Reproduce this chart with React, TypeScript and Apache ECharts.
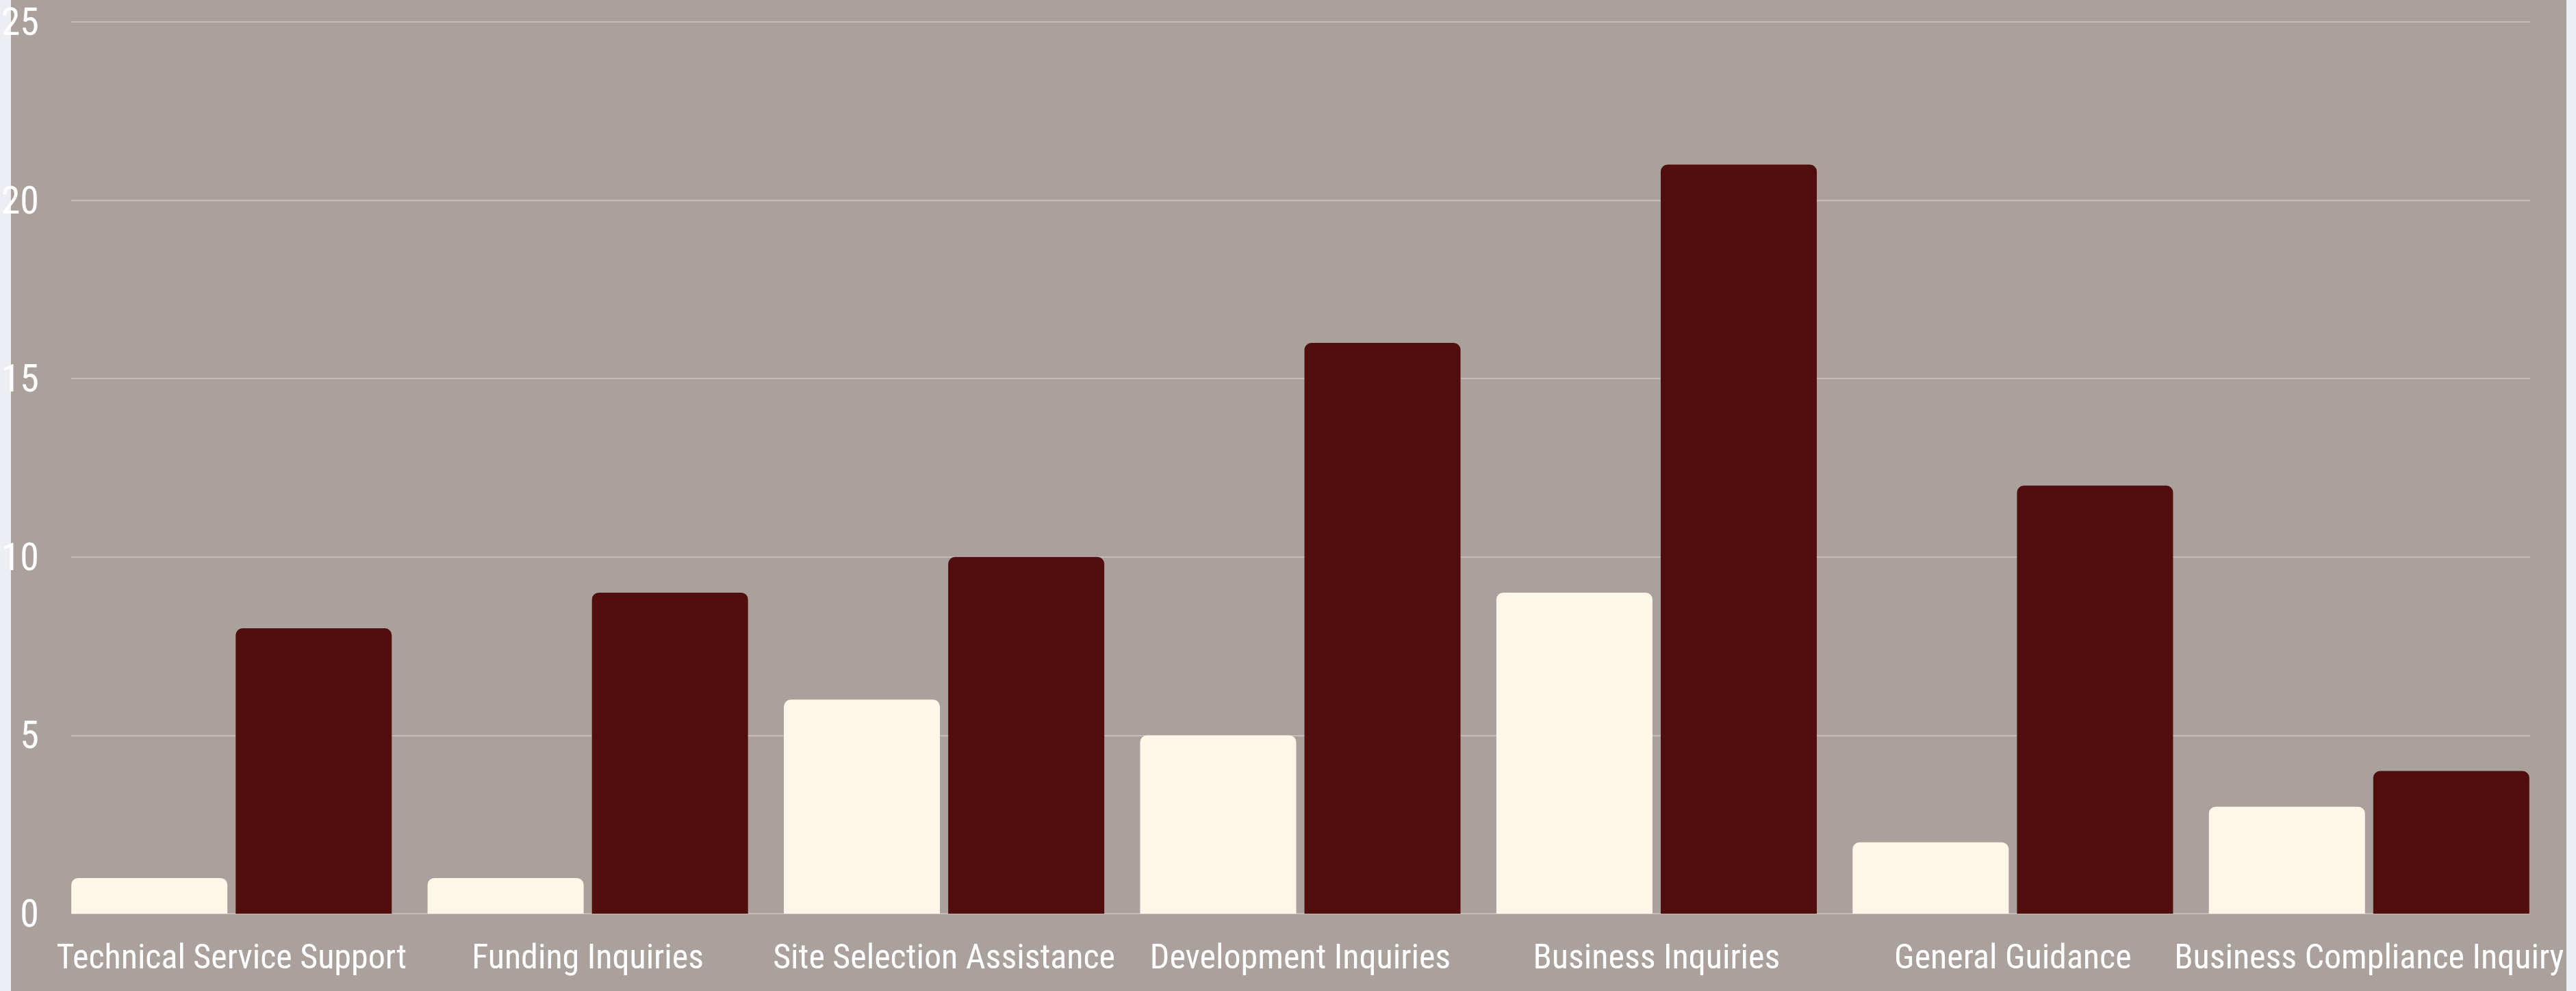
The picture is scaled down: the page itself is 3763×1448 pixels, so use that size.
import React, { useEffect, useRef } from "react";
import * as echarts from "echarts";

const categories = [
  "Technical Service Support",
  "Funding Inquiries",
  "Site Selection Assistance",
  "Development Inquiries",
  "Business Inquiries",
  "General Guidance",
  "Business Compliance Inquiry",
];
const seriesA = [1, 1, 6, 5, 9, 2, 3];
const seriesB = [8, 9, 10, 16, 21, 12, 4];
const yTicks = { min: 0, max: 25, interval: 5 };

const FONT =
  '"Liberation Sans Narrow", "Roboto Condensed", "Noto Sans Condensed", "Open Sans Condensed", "DejaVu Sans Condensed", sans-serif';

export default function App() {
  const ref = useRef<HTMLDivElement>(null);
  useEffect(() => {
    if (!ref.current) return;
    const chart = echarts.init(ref.current, undefined, { renderer: "svg" });
    chart.setOption({
      animation: false,
      backgroundColor: "transparent",
      grid: [
        { left: 104, right: 67, top: 32, bottom: 113, containLabel: false, outerBoundsMode: "none" },
        { left: 78, right: 42, top: 32, bottom: 113, containLabel: false, outerBoundsMode: "none" },
      ],
      xAxis: [
        {
          type: "category",
          gridIndex: 0,
          data: categories,
          show: false,
        },
        {
          type: "category",
          gridIndex: 1,
          data: categories,
          axisLine: { show: false },
          axisTick: { show: false },
          axisLabel: {
            interval: 0,
            color: "#ffffff",
            fontFamily: FONT,
            fontSize: 50,
            margin: 38,
          },
        },
      ],
      yAxis: [
        {
          type: "value",
          gridIndex: 0,
          min: yTicks.min,
          max: yTicks.max,
          interval: yTicks.interval,
          axisLine: { show: false },
          axisTick: { show: false },
          axisLabel: {
            color: "#ffffff",
            fontFamily: FONT,
            fontSize: 56,
            margin: 47,
          },
          splitLine: { show: true, lineStyle: { color: "#c3bbb7", width: 2 } },
        },
        {
          type: "value",
          gridIndex: 1,
          min: yTicks.min,
          max: yTicks.max,
          interval: yTicks.interval,
          show: false,
          splitLine: { show: false },
        },
      ],
      series: [
        {
          type: "bar",
          xAxisIndex: 1,
          yAxisIndex: 1,
          data: seriesA,
          barWidth: 228,
          barGap: "5.3%",
          itemStyle: { color: "#fff8e8", borderRadius: [10, 10, 0, 0] },
        },
        {
          type: "bar",
          xAxisIndex: 1,
          yAxisIndex: 1,
          data: seriesB,
          barWidth: 228,
          barGap: "5.3%",
          itemStyle: { color: "#500f0d", borderRadius: [10, 10, 0, 0] },
        },
      ],
    });
    return () => chart.dispose();
  }, []);
  return (
    <div
      ref={ref}
      style={{
        position: "fixed",
        left: 0,
        top: 0,
        width: 3763,
        height: 1448,
        background:
          "linear-gradient(to right, #eceef4 0px, #eceef4 16px, #aba19c 16px, #aba19c 3749px, #eceef4 3749px, #eceef4 3763px)",
      }}
    />
  );
}
